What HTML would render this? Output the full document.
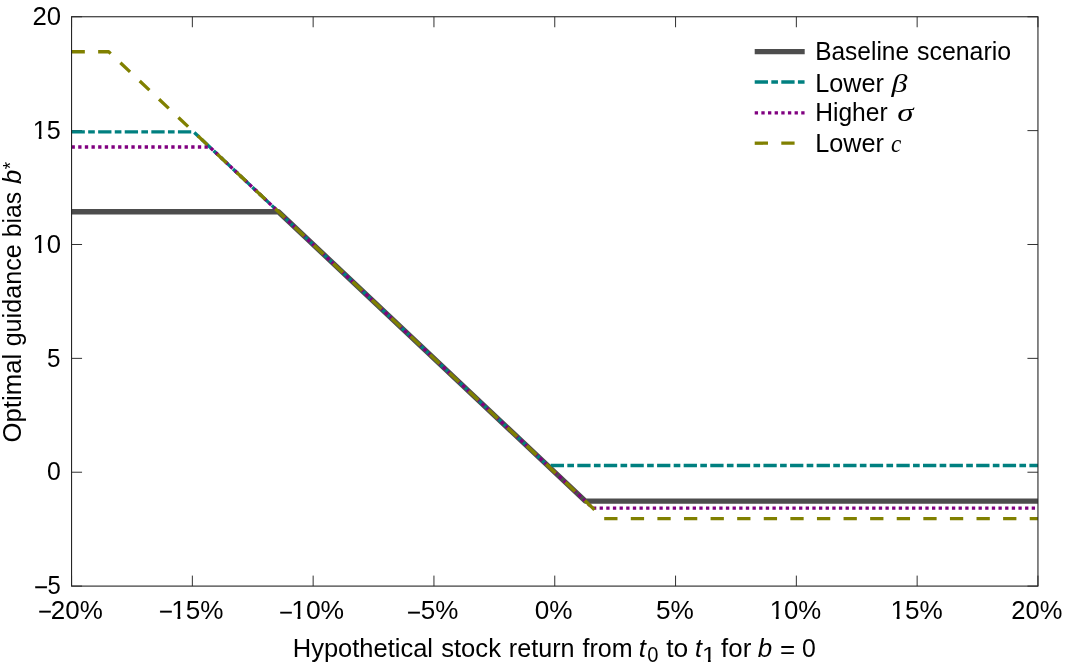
<!DOCTYPE html>
<html lang="en"><head><meta charset="utf-8"><title>Optimal guidance bias</title>
<style>
html,body{margin:0;padding:0;background:#fff;}
svg{display:block;}
text{font-family:"Liberation Sans",sans-serif;font-size:25.3px;fill:#000;}
.it{font-style:italic;}
.se{font-family:"Liberation Serif",serif;font-style:italic;}
.sub{font-size:21.5px;}
.st{font-size:20.5px;}
</style></head><body>
<svg width="1067" height="667" viewBox="0 0 1067 667">
<defs><clipPath id="k1"><path clip-rule="evenodd" d="M-60 -40H400V12H-60Z M1.27 -2.78H6.07V5H1.27Z M8.88 -2.78H13.41V5H8.88Z"/></clipPath><clipPath id="k2"><path clip-rule="evenodd" d="M-60 -40H400V12H-60Z M1.27 -2.78H6.07V5H1.27Z M8.88 -2.78H13.41V5H8.88Z"/></clipPath><clipPath id="k3"><path clip-rule="evenodd" d="M-60 -40H400V12H-60Z M1.27 -2.78H6.07V5H1.27Z M8.88 -2.78H13.41V5H8.88Z"/></clipPath><clipPath id="k4"><path clip-rule="evenodd" d="M-60 -40H400V12H-60Z M1.27 -2.78H6.07V5H1.27Z M8.88 -2.78H13.41V5H8.88Z"/></clipPath><clipPath id="k5"><path clip-rule="evenodd" d="M-60 -40H400V12H-60Z M1.07 -2.37H5.16V5H1.07Z M7.55 -2.37H11.40V5H7.55Z"/></clipPath><clipPath id="k6"><path clip-rule="evenodd" d="M-60 -40H400V12H-60Z M11.85 -2.78H16.65V5H11.85Z M19.46 -2.78H23.99V5H19.46Z"/></clipPath><clipPath id="k7"><path clip-rule="evenodd" d="M-60 -40H400V12H-60Z M11.52 -2.78H16.33V5H11.52Z M19.14 -2.78H23.67V5H19.14Z"/></clipPath></defs>
<rect width="1067" height="667" fill="#fff"/>
<path d="M71.55 586.10v-10.50 M71.55 16.75v10.50 M192.35 586.10v-10.50 M192.35 16.75v10.50 M313.15 586.10v-10.50 M313.15 16.75v10.50 M433.95 586.10v-10.50 M433.95 16.75v10.50 M554.75 586.10v-10.50 M554.75 16.75v10.50 M675.55 586.10v-10.50 M675.55 16.75v10.50 M796.35 586.10v-10.50 M796.35 16.75v10.50 M917.15 586.10v-10.50 M917.15 16.75v10.50 M1037.95 586.10v-10.50 M1037.95 16.75v10.50 M71.55 586.10h10.50 M1037.95 586.10h-10.50 M71.55 472.23h10.50 M1037.95 472.23h-10.50 M71.55 358.36h10.50 M1037.95 358.36h-10.50 M71.55 244.49h10.50 M1037.95 244.49h-10.50 M71.55 130.62h10.50 M1037.95 130.62h-10.50 M71.55 16.75h10.50 M1037.95 16.75h-10.50" fill="none" stroke="#262626" stroke-width="0.95"/>
<g fill="none" stroke-linejoin="round">
<path d="M71.55 211.75 L278.42 211.75 L585.38 501.10 L1037.95 501.10" stroke="#4d4d4d" stroke-width="5.33"/>
<path d="M71.55 131.80 L193.60 131.80 L547.61 465.50 L1037.95 465.50" stroke="#008080" stroke-width="3.33" stroke-dasharray="13.297 3.324 6.648 3.324"/>
<path d="M71.55 147.00 L209.73 147.00 L592.91 508.20 L1037.95 508.20" stroke="#800080" stroke-width="3.33" stroke-dasharray="3.324 3.324"/>
<path d="M71.55 51.75 L108.68 51.75 L604.05 518.70 L1037.95 518.70" stroke="#808000" stroke-width="3.33" stroke-dasharray="13.297 13.297"/>
</g>
<rect x="71.55" y="16.75" width="966.40" height="569.35" fill="none" stroke="#262626" stroke-width="1.1"/>
<g transform="translate(32.38 24.95) scale(1.0164 1)"><text>20</text></g>
<g transform="translate(32.69 138.82) scale(0.9939 1)"><text clip-path="url(#k1)">15</text></g>
<g transform="translate(32.44 252.69) scale(1.0141 1)"><text clip-path="url(#k2)">10</text></g>
<g transform="translate(46.99 366.56) scale(0.9583 1)"><text>5</text></g>
<g transform="translate(46.97 480.43) scale(0.9814 1)"><text>0</text></g>
<g transform="translate(534.82 619.20) scale(1.0339 1)"><text>0%</text></g>
<g transform="translate(655.91 619.20) scale(1.0368 1)"><text>5%</text></g>
<g transform="translate(769.63 619.20) scale(1.0195 1)"><text clip-path="url(#k3)">10%</text></g>
<g transform="translate(890.39 619.20) scale(1.0343 1)"><text clip-path="url(#k4)">15%</text></g>
<g transform="translate(1011.29 619.20) scale(1.0082 1)"><text>20%</text></g>
<g transform="translate(292.81 656.90) scale(1.0076 1)"><text>Hypothetical</text></g>
<g transform="translate(441.19 656.90) scale(1.0129 1)"><text>stock</text></g>
<g transform="translate(508.83 656.90) scale(0.9940 1)"><text>return</text></g>
<g transform="translate(582.58 656.90) scale(0.9897 1)"><text>from</text></g>
<g transform="translate(638.80 656.90) scale(1.0222 1)"><text class="it">t</text></g>
<g transform="translate(647.33 661.70) scale(0.9366 1)"><text class="sub">0</text></g>
<g transform="translate(666.16 656.90) scale(1.0446 1)"><text>to</text></g>
<g transform="translate(695.03 656.90) scale(0.9926 1)"><text class="it">t</text></g>
<g transform="translate(702.00 661.70) scale(1.1535 1)"><text class="sub" clip-path="url(#k5)">1</text></g>
<g transform="translate(721.07 656.90) scale(1.0226 1)"><text>for</text></g>
<g transform="translate(757.77 656.90) scale(1.0252 1)"><text class="it">b</text></g>
<g transform="translate(779.96 658.40) scale(1.0286 1)"><text>=</text></g>
<g transform="translate(801.97 656.90) scale(0.9814 1)"><text>0</text></g>
<g transform="translate(815.19 60.00) scale(0.9675 1)"><text>Baseline</text></g>
<g transform="translate(917.01 60.00) scale(0.9843 1)"><text>scenario</text></g>
<g transform="translate(815.13 92.00) scale(0.9974 1)"><text>Lower</text></g>
<g transform="translate(891.62 92.00) scale(1.2660 1)"><text class="se">β</text></g>
<g transform="translate(815.18 120.90) scale(0.9722 1)"><text>Higher</text></g>
<g transform="translate(897.37 120.90) scale(1.3040 1)"><text class="se">σ</text></g>
<g transform="translate(815.13 152.00) scale(0.9974 1)"><text>Lower</text></g>
<g transform="translate(890.96 152.00) scale(0.9185 1)"><text class="se">c</text></g>
<g transform="translate(35.52 594.30) scale(0.9417 1)"><text><tspan style="font-size:21.59px;stroke:#000;stroke-width:0.55px" dy="-1.26">–</tspan><tspan x="12.62" dy="1.26">5</tspan></text></g>
<g transform="translate(39.42 619.20) scale(1.0268 1)"><text><tspan style="font-size:19.45px;stroke:#000;stroke-width:0.55px" dy="-1.80">–</tspan><tspan x="11.05" dy="1.80">20%</tspan></text></g>
<g transform="translate(160.28 619.20) scale(1.0322 1)"><text clip-path="url(#k6)"><tspan style="font-size:19.78px;stroke:#000;stroke-width:0.55px" dy="-1.72">–</tspan><tspan x="10.58" dy="1.72">15%</tspan></text></g>
<g transform="translate(280.42 619.20) scale(1.0470 1)"><text clip-path="url(#k7)"><tspan style="font-size:19.07px;stroke:#000;stroke-width:0.55px" dy="-1.90">–</tspan><tspan x="10.26" dy="1.90">10%</tspan></text></g>
<g transform="translate(408.22 619.20) scale(1.0282 1)"><text><tspan style="font-size:20.13px;stroke:#000;stroke-width:0.55px" dy="-1.63">–</tspan><tspan x="12.25" dy="1.63">5%</tspan></text></g>
<g transform="translate(21.30 442.52) rotate(-90) scale(1.0184 1)"><text>Optimal</text></g>
<g transform="translate(21.30 346.37) rotate(-90) scale(0.9950 1)"><text>guidance</text></g>
<g transform="translate(21.30 237.35) rotate(-90) scale(0.9823 1)"><text>bias</text></g>
<g transform="translate(21.30 183.93) rotate(-90) scale(1.0097 1)"><text class="it">b</text></g>
<g transform="translate(17.00 169.20) rotate(-90) scale(0.9241 1)"><text class="st">*</text></g>
<g fill="none">
<path d="M754.70 51.55H804.70" stroke="#4d4d4d" stroke-width="5.33"/>
<path d="M754.70 82.00H804.70" stroke="#008080" stroke-width="3.33" stroke-dasharray="13.297 3.324 6.648 3.324"/>
<path d="M754.70 112.80H804.70" stroke="#800080" stroke-width="3.33" stroke-dasharray="3.324 3.324"/>
<path d="M754.70 143.20H804.70" stroke="#808000" stroke-width="3.33" stroke-dasharray="13.297 13.297"/>
</g>
</svg></body></html>
